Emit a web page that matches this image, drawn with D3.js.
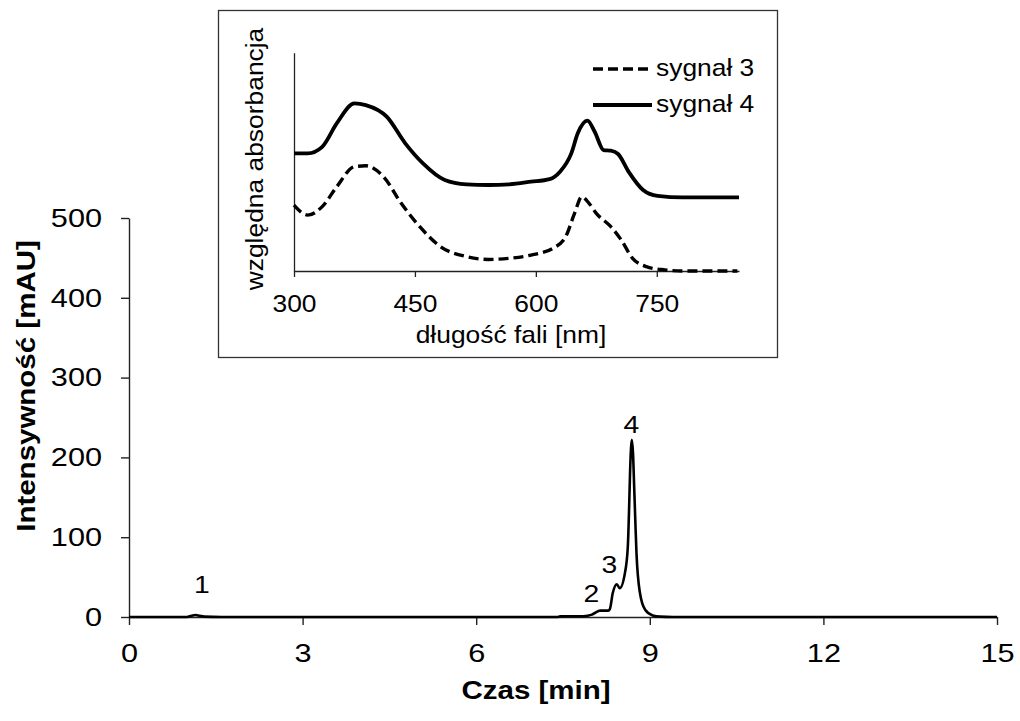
<!DOCTYPE html>
<html>
<head>
<meta charset="utf-8">
<script src="https://cdn.jsdelivr.net/npm/d3@7"></script>
<style>
  body { margin: 0; background: #fff; }
  svg { display: block; }
  text { font-family: "Liberation Sans", Arial, sans-serif; fill: #000; }
</style>
</head>
<body>
<script>
// Chromatogram (time in min, intensity in mAU)
const czas = [0, 1.0, 1.08, 1.15, 1.22, 1.3, 1.6, 7.4, 7.45, 7.85, 8.0, 8.05, 8.14, 8.28, 8.31,
              8.36, 8.43, 8.48, 8.57, 8.62, 8.64, 8.66, 8.69, 8.71, 8.73, 8.75, 8.77, 8.83,
              8.92, 9.05, 9.18, 9.4, 15];
const intensywnosc = [0, 0, 1.5, 2.5, 1.5, 0.5, 0, 0, 0.8, 1, 3, 5, 8, 8, 10,
                      30, 41, 36, 55, 88, 130, 184, 222, 205, 163, 120, 80, 30,
                      9, 2, 0.5, 0, 0];
const xTicks = [0, 3, 6, 9, 12, 15];
const yTicks = [0, 100, 200, 300, 400, 500];
const peakLabels = ["1", "2", "3", "4"];
const peakTimes = [1.26, 7.99, 8.3, 8.68];
const peakHeights = [30, 19, 55, 230];

// Inset spectra (wavelength nm, relative absorbance)
const nm4 = [300, 317, 335, 353, 375, 389, 415, 438, 460, 487, 514, 541, 567, 594, 617,
             630, 644, 652, 664, 673, 684, 693, 702, 715, 733, 751, 782, 852];
const syg4 = [53.9, 53.9, 56.9, 67.6, 76.8, 76.0, 70.7, 58.5, 49.3, 41.7, 39.7, 39.4, 39.7,
              40.9, 42.1, 45.5, 53.9, 63.1, 68.9, 63.8, 55.4, 55.1, 53.6, 45.5, 37.1, 34.4,
              33.7, 33.7];
const nm3 = [300, 317, 335, 353, 375, 389, 411, 433, 456, 482, 514, 541, 567, 594, 621,
             637, 648, 657, 666, 675, 693, 706, 720, 737, 760, 782, 850];
const syg3 = [30.2, 25.6, 29.5, 38.6, 47.8, 48.2, 43.2, 31.0, 20.3, 11.1, 6.6, 5.3, 5.8,
              7.3, 10.4, 15.7, 26.4, 34.0, 31.0, 26.4, 20.3, 14.2, 5.8, 2.0, 0.5, 0, 0];
const insetTicks = [300, 450, 600, 750];
const legendNames = ["sygnał 3", "sygnał 4"];

const W = 1020, H = 721;
const mainS = 1.18, insetS = 1.1;

const svg = d3.select("body").append("svg")
    .attr("width", W).attr("height", H);

// stretch text horizontally (the original is wider than the font)
function stretch(sel, s) {
    sel.each(function() {
        const t = d3.select(this);
        const x = +t.attr("x") || 0, y = +t.attr("y") || 0;
        t.attr("x", 0).attr("y", 0)
         .attr("transform", `translate(${x},${y}) scale(${s},1)`);
    });
}

// ---------- main chart ----------
const x = d3.scaleLinear().domain([0, 15]).range([129, 997]);
const y = d3.scaleLinear().domain([0, 500]).range([617, 218]);

const gx = svg.append("g")
    .attr("transform", `translate(0,${y(0)})`)
    .call(d3.axisBottom(x).tickValues(xTicks).tickSize(8).tickSizeOuter(0).tickPadding(19));
const gy = svg.append("g")
    .attr("transform", `translate(${x(0)},0)`)
    .call(d3.axisLeft(y).tickValues(yTicks).tickSize(8).tickSizeOuter(0).tickPadding(19));

[gx, gy].forEach(g => {
    g.select(".domain").attr("stroke", "#222").attr("stroke-width", 1.4);
    g.selectAll(".tick line").attr("stroke", "#222").attr("stroke-width", 1.4);
    g.selectAll(".tick text").attr("font-size", 26).attr("fill", "#000")
        .style("font-family", "Liberation Sans, Arial, sans-serif");
    stretch(g.selectAll(".tick text"), mainS);
});

svg.append("path")
    .datum(czas.map((t, i) => [t, intensywnosc[i]]))
    .attr("fill", "none").attr("stroke", "#000").attr("stroke-width", 2.6)
    .attr("stroke-linejoin", "round")
    .attr("d", d3.line().x(d => x(d[0])).y(d => y(d[1])).curve(d3.curveMonotoneX));

svg.selectAll(".peak").data(peakLabels).enter().append("text")
    .attr("class", "peak")
    .attr("x", (d, i) => x(peakTimes[i]))
    .attr("y", (d, i) => y(peakHeights[i]))
    .attr("text-anchor", "middle").attr("font-size", 24)
    .text(d => d)
    .call(stretch, mainS);

svg.append("text")
    .attr("x", 536).attr("y", 699)
    .attr("text-anchor", "middle").attr("font-size", 25).attr("font-weight", "bold")
    .text("Czas [min]")
    .call(stretch, mainS);

svg.append("text")
    .attr("transform", `translate(35,386) rotate(-90) scale(${mainS},1)`)
    .attr("text-anchor", "middle").attr("font-size", 25).attr("font-weight", "bold")
    .text("Intensywność [mAU]");

// ---------- inset ----------
svg.append("rect")
    .attr("x", 218.5).attr("y", 10.5).attr("width", 559).attr("height", 347)
    .attr("fill", "#fff").attr("stroke", "#333").attr("stroke-width", 1.3);

const ix = d3.scaleLinear().domain([300, 852]).range([294, 739]);
const iy = d3.scaleLinear().domain([0, 100]).range([271, 52.7]);

const igx = svg.append("g")
    .attr("transform", `translate(0,${iy(0)})`)
    .call(d3.axisBottom(ix).tickValues(insetTicks).tickSize(6).tickSizeOuter(0).tickPadding(18));
const igy = svg.append("g")
    .attr("transform", `translate(${ix(300)},0)`)
    .call(d3.axisLeft(iy).tickValues([]).tickSizeOuter(0));

[igx, igy].forEach(g => {
    g.select(".domain").attr("stroke", "#222").attr("stroke-width", 1.3);
    g.selectAll(".tick line").attr("stroke", "#222").attr("stroke-width", 1.3);
    g.selectAll(".tick text").attr("font-size", 24).attr("fill", "#000")
        .style("font-family", "Liberation Sans, Arial, sans-serif");
    stretch(g.selectAll(".tick text"), insetS);
});

const iline = d3.line().x(d => ix(d[0])).y(d => iy(d[1])).curve(d3.curveMonotoneX);

svg.append("path")
    .datum(nm3.map((w, i) => [w, syg3[i]]))
    .attr("fill", "none").attr("stroke", "#000").attr("stroke-width", 3.4)
    .attr("stroke-dasharray", "10,5")
    .attr("d", iline);

svg.append("path")
    .datum(nm4.map((w, i) => [w, syg4[i]]))
    .attr("fill", "none").attr("stroke", "#000").attr("stroke-width", 3.8)
    .attr("d", iline);

const legend = svg.selectAll(".leg").data(legendNames).enter().append("g")
    .attr("class", "leg")
    .attr("transform", (d, i) => `translate(593,${69 + i * 36})`);
legend.append("line")
    .attr("x1", 0).attr("x2", 59).attr("y1", 0).attr("y2", 0)
    .attr("stroke", "#000").attr("stroke-width", (d, i) => i === 0 ? 3.4 : 3.8)
    .attr("stroke-dasharray", (d, i) => i === 0 ? "10,5" : null);
legend.append("text")
    .attr("x", 63).attr("y", 7)
    .attr("font-size", 24)
    .text(d => d)
    .call(stretch, insetS);

svg.append("text")
    .attr("x", 511).attr("y", 343)
    .attr("text-anchor", "middle").attr("font-size", 24)
    .text("długość fali [nm]")
    .call(stretch, insetS);

svg.append("text")
    .attr("transform", `translate(263,159) rotate(-90) scale(${insetS},1)`)
    .attr("text-anchor", "middle").attr("font-size", 24)
    .text("względna absorbancja");
</script>
</body>
</html>
